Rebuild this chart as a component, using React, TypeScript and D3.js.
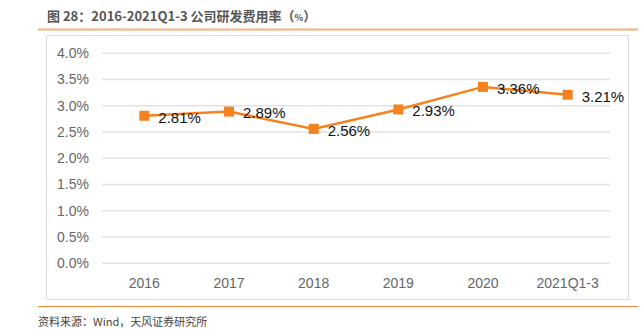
import React from "react";
import * as d3 from "d3";

const categories = ["2016", "2017", "2018", "2019", "2020", "2021Q1-3"];
const values = [2.81, 2.89, 2.56, 2.93, 3.36, 3.21];
const yTicks = [0, 0.5, 1, 1.5, 2, 2.5, 3, 3.5, 4];
const title = "图 28：2016-2021Q1-3 公司研发费用率（";
const source = "资料来源：Wind，天风证券研究所";

export default function App() {
  const W = 644, H = 329;
  const x = d3.scaleBand<string>().domain(categories).range([102, 610]);
  const y = d3.scaleLinear().domain([0, 4]).range([263.3, 53.3]);
  const orange = "#F5821F";
  const line = d3
    .line<number>()
    .x((_, i) => (x(categories[i]) as number) + x.bandwidth() / 2)
    .y((d) => y(d));
  const font = "'Liberation Sans', Arial, Helvetica, sans-serif";
  return (
    <svg width={W} height={H} style={{ position: "absolute", left: 0, top: 0 }}>
      <rect width={W} height={H} fill="#fff" />
      <text x={47} y={21} fontSize={13} fontWeight="bold" fill="#555" fontFamily="'Noto Sans CJK SC', sans-serif">
        {title}
        <tspan fontSize={9}>%</tspan>
        <tspan>）</tspan>
      </text>
      <line x1={38} x2={638} y1={29.5} y2={29.5} stroke="#F7B27A" strokeWidth={2} />
      <rect x={46.5} y={35.5} width={582} height={264} fill="none" stroke="#dcdcdc" strokeWidth={1} />
      {yTicks.map((t) => (
        <g key={t}>
          <line x1={102} x2={610} y1={y(t)} y2={y(t)} stroke="#e3e3e3" strokeWidth={1.5} />
          <text x={89} y={y(t)} dy="0.35em" textAnchor="end" fontSize={14} fill="#666" fontFamily={font}>
            {t.toFixed(1) + "%"}
          </text>
        </g>
      ))}
      {categories.map((c) => (
        <text key={c} x={(x(c) as number) + x.bandwidth() / 2} y={283} dy="0.35em" textAnchor="middle" fontSize={14} fill="#666" fontFamily={font}>
          {c}
        </text>
      ))}
      <path d={line(values) || ""} fill="none" stroke={orange} strokeWidth={2.5} />
      {values.map((v, i) => {
        const cx = (x(categories[i]) as number) + x.bandwidth() / 2;
        const cy = y(v);
        return (
          <g key={i}>
            <rect x={cx - 5} y={cy - 5} width={10} height={10} fill={orange} />
            <text x={cx + 14} y={cy} dy="0.45em" fontSize={15} fill="#111" fontFamily={font}>
              {v.toFixed(2) + "%"}
            </text>
          </g>
        );
      })}
      <line x1={38} x2={638} y1={306.5} y2={306.5} stroke="#E8873A" strokeWidth={1.2} />
      <text x={38} y={326} fontSize={11} fill="#444" fontFamily="'Noto Sans CJK SC', sans-serif">
        {source}
      </text>
    </svg>
  );
}
